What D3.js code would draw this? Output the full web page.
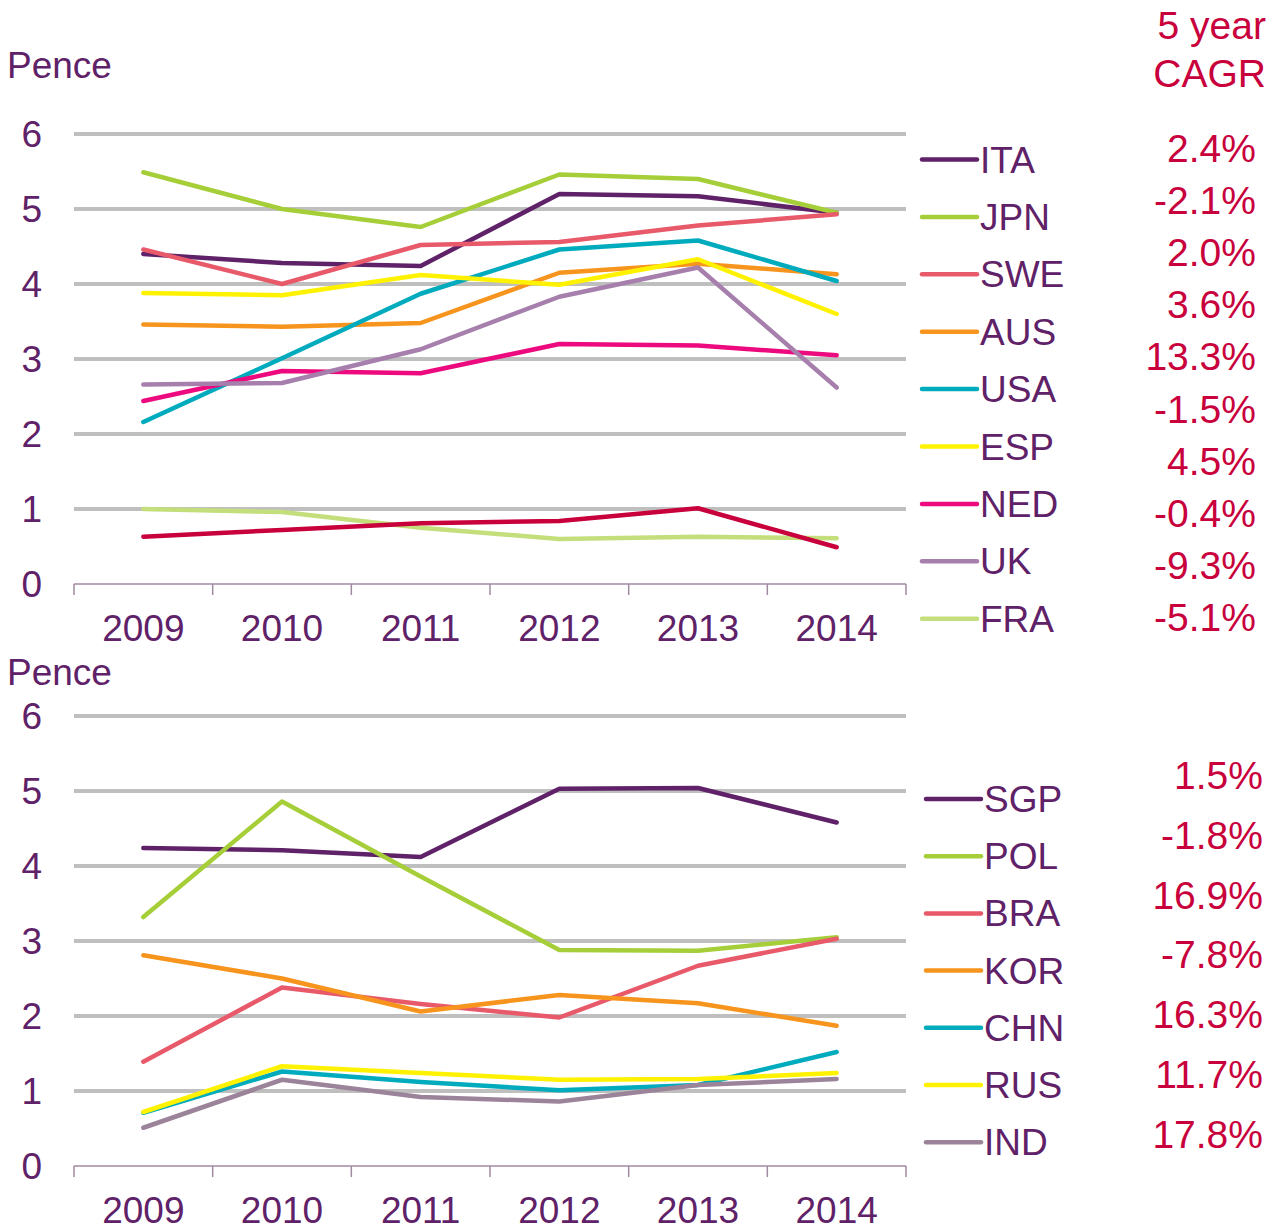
<!DOCTYPE html>
<html>
<head>
<meta charset="utf-8">
<script src="https://cdn.jsdelivr.net/npm/d3@7"></script>
<style>
  body { margin: 0; background: #fff; }
  svg { display: block; font-family: "Liberation Sans", Arial, sans-serif; }
</style>
</head>
<body>
<div id="chart"></div>
<script>
const years = ["2009", "2010", "2011", "2012", "2013", "2014"];
const yTicks = [0, 1, 2, 3, 4, 5, 6];

// top panel
const topNames = ["ITA", "JPN", "SWE", "AUS", "USA", "ESP", "NED", "UK", "FRA", ""];
const topColors = ["#5f2167", "#a6ce39", "#e85a6a", "#f7941d", "#00abbd", "#fff200", "#ec0a7e", "#a67fad", "#c3de7a", "#c8003c"];
const topValues = [
  [4.40, 4.28, 4.24, 5.20, 5.17, 4.95],
  [5.49, 5.00, 4.76, 5.46, 5.40, 4.95],
  [4.46, 4.00, 4.52, 4.56, 4.78, 4.93],
  [3.46, 3.43, 3.48, 4.15, 4.27, 4.13],
  [2.16, 3.01, 3.87, 4.46, 4.58, 4.04],
  [3.88, 3.85, 4.12, 3.99, 4.33, 3.60],
  [2.44, 2.84, 2.81, 3.20, 3.18, 3.05],
  [2.66, 2.68, 3.13, 3.83, 4.22, 2.62],
  [1.00, 0.96, 0.75, 0.60, 0.63, 0.61],
  [0.63, 0.72, 0.81, 0.84, 1.01, 0.49]
];
const topCagr = ["2.4%", "-2.1%", "2.0%", "3.6%", "13.3%", "-1.5%", "4.5%", "-0.4%", "-9.3%", "-5.1%"];

// bottom panel
const botNames = ["SGP", "POL", "BRA", "KOR", "CHN", "RUS", "IND"];
const botColors = ["#5f2167", "#a6ce39", "#e85a6a", "#f7941d", "#00abbd", "#fff200", "#9b8499"];
const botValues = [
  [4.24, 4.21, 4.12, 5.03, 5.04, 4.58],
  [3.32, 4.86, 3.86, 2.88, 2.87, 3.05],
  [1.39, 2.38, 2.16, 1.98, 2.67, 3.03],
  [2.81, 2.50, 2.06, 2.28, 2.17, 1.87],
  [0.71, 1.26, 1.12, 1.01, 1.08, 1.52],
  [0.72, 1.33, 1.24, 1.15, 1.16, 1.24],
  [0.51, 1.15, 0.92, 0.86, 1.08, 1.16]
];
const botCagr = ["1.5%", "-1.8%", "16.9%", "-7.8%", "16.3%", "11.7%", "17.8%"];

const textPurple = "#5f2167";
const cagrRed = "#c8003c";

const svg = d3.select("#chart").append("svg")
  .attr("width", 1281)
  .attr("height", 1225);

// header for CAGR column
svg.append("text").attr("x", 1266).attr("y", 39).attr("text-anchor", "end")
  .attr("fill", cagrRed).style("font-size", "39px").text("5 year");
svg.append("text").attr("x", 1266).attr("y", 87).attr("text-anchor", "end")
  .attr("fill", cagrRed).style("font-size", "39px").text("CAGR");

const drawPanel = (opt) => {
  const x = d3.scaleBand().domain(years).range([74, 906]).padding(0);
  const y = d3.scaleLinear().domain([0, 6]).range([opt.y0, opt.y0 - 450]);
  const g = svg.append("g");

  g.append("text").attr("x", 7).attr("y", opt.penceY)
    .attr("fill", textPurple).style("font-size", "37px").text("Pence");

  // gridlines
  g.selectAll(".grid").data(yTicks.filter((d) => d > 0)).join("line")
    .attr("x1", 74).attr("x2", 906)
    .attr("y1", (d) => y(d)).attr("y2", (d) => y(d))
    .attr("stroke", "#bfbfbf").attr("stroke-width", 4);

  // y labels
  g.selectAll(".ylab").data(yTicks).join("text")
    .attr("x", 42).attr("y", (d) => y(d) + 13)
    .attr("text-anchor", "end").attr("fill", textPurple)
    .style("font-size", "37px").text((d) => d);

  // x axis
  const xAxis = g.append("g").attr("transform", `translate(0,${opt.y0})`);
  xAxis.append("line").attr("x1", 74).attr("x2", 906)
    .attr("stroke", "#a08aa2").attr("stroke-width", 1.5);
  xAxis.selectAll(".tk").data(years.concat(["end"])).join("line")
    .attr("x1", (d, i) => (i < years.length ? x(d) : x.range()[1]))
    .attr("x2", (d, i) => (i < years.length ? x(d) : x.range()[1]))
    .attr("y1", 0).attr("y2", 11)
    .attr("stroke", "#a08aa2").attr("stroke-width", 1.5);
  xAxis.selectAll(".xl").data(years).join("text")
    .attr("x", (d) => x(d) + x.bandwidth() / 2)
    .attr("y", opt.xLabelDy)
    .attr("text-anchor", "middle").attr("fill", textPurple)
    .style("font-size", "37px").text((d) => d);

  const line = d3.line()
    .x((d, i) => x(years[i]) + x.bandwidth() / 2)
    .y((d) => y(d));

  g.selectAll(".series").data(opt.values).join("path")
    .attr("d", (d) => line(d))
    .attr("fill", "none")
    .attr("stroke", (d, i) => opt.colors[i])
    .attr("stroke-width", 4.5)
    .attr("stroke-linecap", "round")
    .attr("stroke-linejoin", "round");

  // legend
  const legendItems = opt.names.map((n, i) => ({ name: n, color: opt.colors[i] })).filter((d) => d.name);
  const leg = g.selectAll(".leg").data(legendItems).join("g")
    .attr("transform", (d, i) => `translate(${opt.legX},${opt.legY + i * opt.legStep})`);
  leg.append("line").attr("x1", 0).attr("x2", 55)
    .attr("stroke", (d) => d.color).attr("stroke-width", 4.5).attr("stroke-linecap", "round");
  leg.append("text").attr("x", 58).attr("y", 13)
    .attr("fill", textPurple).style("font-size", "37px").text((d) => d.name);

  // CAGR values
  g.selectAll(".cagr").data(opt.cagr).join("text")
    .attr("x", opt.cagrX).attr("y", (d, i) => opt.cagrY + i * opt.cagrStep)
    .attr("text-anchor", "end").attr("fill", cagrRed)
    .style("font-size", "39px").text((d) => d);
};

drawPanel({
  y0: 584, penceY: 78, xLabelDy: 57,
  names: topNames, colors: topColors, values: topValues, cagr: topCagr,
  legX: 922, legY: 159.5, legStep: 57.4,
  cagrX: 1256, cagrY: 161.5, cagrStep: 52.2
});

drawPanel({
  y0: 1166, penceY: 685, xLabelDy: 57,
  names: botNames, colors: botColors, values: botValues, cagr: botCagr,
  legX: 926, legY: 799, legStep: 57.2,
  cagrX: 1263, cagrY: 789, cagrStep: 59.8
});
</script>
</body>
</html>
